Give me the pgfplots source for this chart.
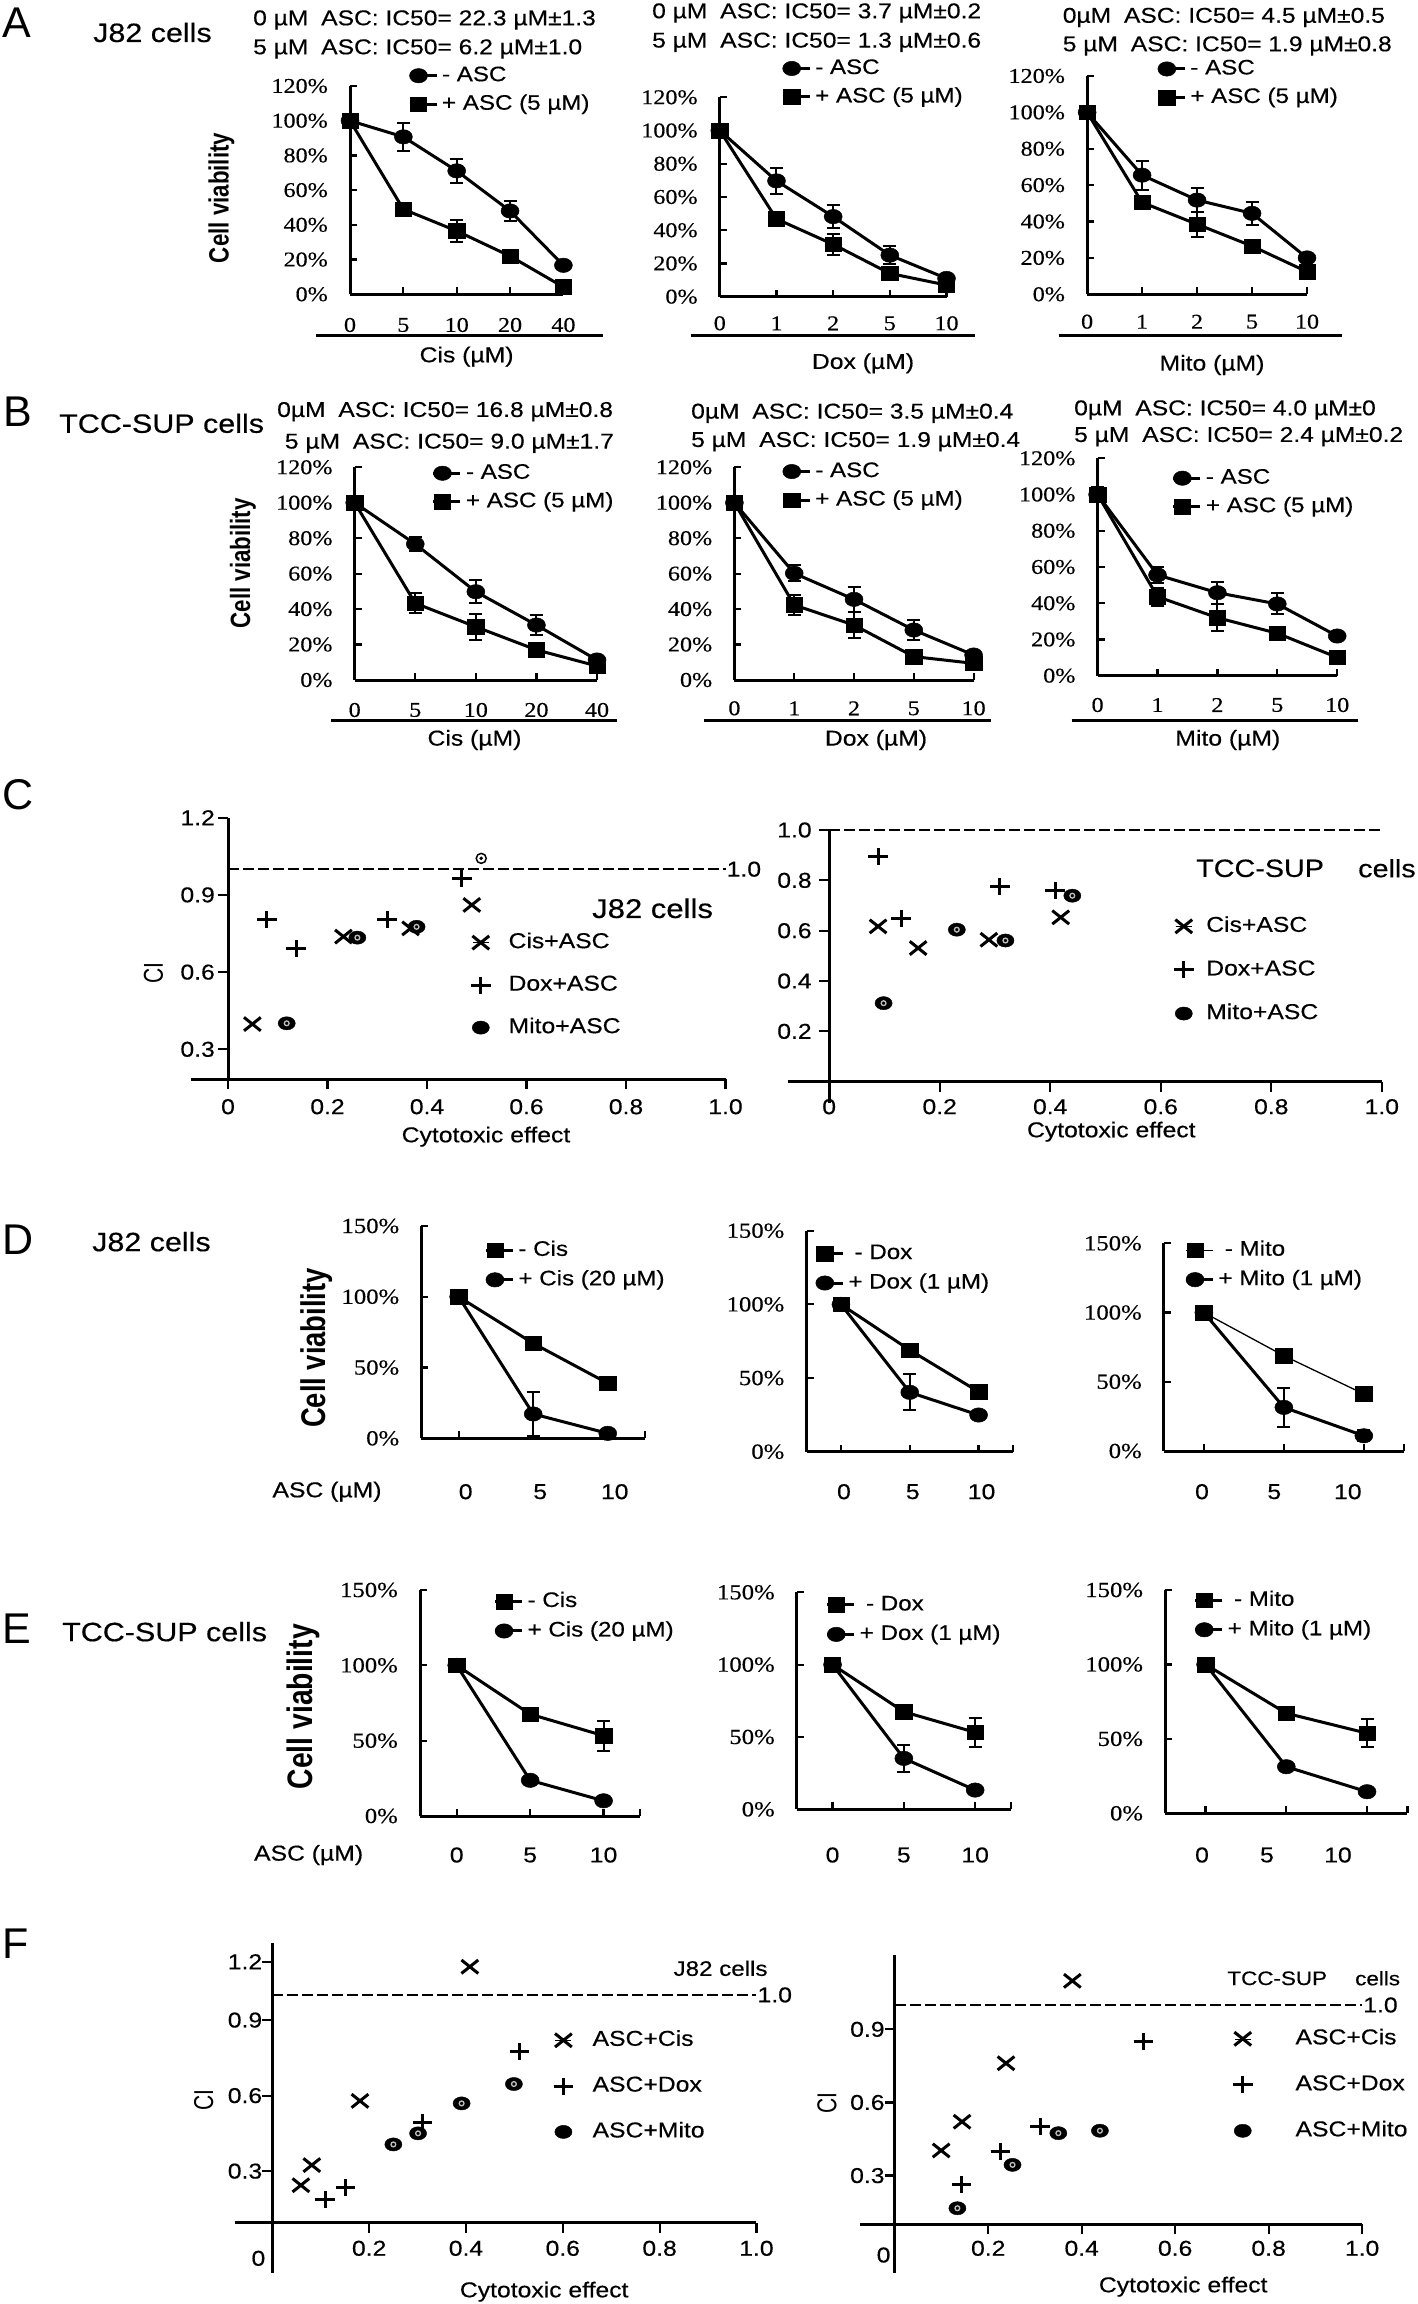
\documentclass[border=0pt]{standalone}
\usepackage{fontspec}
\setmainfont[FakeStretch=1.15,FakeBold=0.4]{Liberation Sans}
\newfontfamily\plainsans{Liberation Sans}
\newfontfamily\tms[FakeStretch=1.15,FakeBold=0.4]{Liberation Serif}
\usepackage{graphicx}
\usepackage{pgfplots}
\pgfplotsset{compat=1.18}
\newcommand{\fs}[1]{\fontsize{#1}{#1}\selectfont}
\newcommand{\gap}{\hspace{0.6em}}
\pgfplotsset{
  noarrows/.style={axis line style={line width=3pt,-},
    every inner x axis line/.append style={-},
    every inner y axis line/.append style={-},
    every outer x axis line/.append style={-},
    every outer y axis line/.append style={-}},
  base/.style={scale only axis, clip=false,
    tick style={line width=2.2pt, black}},
  lineleg/.style={
    legend image code/.code={\path (-9pt,0pt) -- (18pt,0pt);
      \draw[mark repeat=2,mark phase=1,##1] plot coordinates {(0pt,0pt) (17pt,0pt)};},
    legend cell align=left,
    legend style={draw=none, fill=none, inner sep=0pt, outer sep=0pt,
      row sep=7.5pt, column sep=4pt, font=\fs{21}, anchor=west,
      nodes={inner sep=0pt, text height=16pt, text depth=5pt}}},
  markleg/.style={
    legend image code/.code={\path (-8pt,0pt) -- (8pt,0pt);
      \draw[##1] plot coordinates {(0pt,0pt)};},
    legend cell align=left,
    legend style={draw=none, fill=none, inner sep=0pt, outer sep=0pt,
      font=\fs{21.5}, anchor=west,
      nodes={inner sep=0pt, text height=16pt, text depth=5pt}}},
  ab/.style={base, lineleg,
    axis x line=bottom, axis y line=left, noarrows,
    tick align=inside, major tick length=7pt,
    xmin=0, xmax=4, xtick={0,1,2,3,4},
    ymin=0, ymax=120, ytick={0,20,40,60,80,100,120},
    yticklabels={0\%,20\%,40\%,60\%,80\%,100\%,120\%},
    yticklabel style={font=\tms\fs{21}, anchor=east, inner sep=0pt, xshift=-22pt},
    xticklabel style={font=\tms\fs{21}, anchor=center, inner sep=0pt}},
  de/.style={base, lineleg,
    axis x line=bottom, axis y line=left, noarrows,
    tick align=inside, major tick length=7pt,
    xmin=-2.5, xmax=12.5, xtick={0,5,10,12.5}, xticklabels={0,5,10,{}},
    ymin=0, ymax=150, ytick={0,50,100,150},
    yticklabels={0\%,50\%,100\%,150\%},
    yticklabel style={font=\tms\fs{21.5}, anchor=east, inner sep=0pt, xshift=-22pt},
    xticklabel style={font=\fs{21.5}, anchor=center, inner sep=0pt},
    legend style={row sep=8.5pt}},
  cf/.style={base, markleg,
    axis x line=bottom, axis y line=center, noarrows,
    hide obscured x ticks=false, hide obscured y ticks=false,
    tick align=outside, major tick length=10pt, xmax=1,
    yticklabel style={font=\fs{21.5}, anchor=east, inner sep=0pt},
    xticklabel style={font=\fs{21.5}, anchor=center, inner sep=0pt}},
  circ/.style={black, line width=3pt, mark=*, mark size=7.2pt, mark options={solid, xscale=1.25, line width=0.5pt}},
  sqr/.style={black, line width=3pt, mark=square*, mark size=7.3pt, mark options={solid, xscale=1.12, line width=0.5pt}},
  eb/.style={/pgfplots/error bars/y dir=both, /pgfplots/error bars/y explicit,
    /pgfplots/error bars/error bar style={line width=2pt},
    /pgfplots/error bars/error mark options={rotate=90, mark size=6.5pt, line width=2pt}},
  cisx/.style={black, only marks, mark=x, mark size=9.5pt, mark options={line width=3pt, xscale=1.25}},
  doxp/.style={black, only marks, mark=+, mark size=8.5pt, mark options={line width=3pt, xscale=1.15}},
  mitoo/.style={black, only marks, mark=*, mark size=6.6pt, mark options={xscale=1.3, fill=black, draw=black}},
  mitodot/.style={forget plot, only marks, mark=o, mark size=2.4pt, mark options={draw=gray!50, line width=1.3pt}},
  dashone/.style={forget plot, black, line width=2.5pt, dash pattern=on 11pt off 4pt},
}
\begin{document}
\begin{tikzpicture}[x=1pt,y=1pt]
\path[use as bounding box] (0,0) rectangle (1417,-2304);

% ---------------- text: panel letters and cell labels
\node[anchor=west, inner sep=0pt, font=\plainsans\fs{43}] at (2,-22.5) {A};
\node[anchor=west, inner sep=0pt, font=\plainsans\fs{43}] at (3,-412) {B};
\node[anchor=west, inner sep=0pt, font=\plainsans\fs{43}] at (2,-795) {C};
\node[anchor=west, inner sep=0pt, font=\plainsans\fs{43}] at (2,-1240) {D};
\node[anchor=west, inner sep=0pt, font=\plainsans\fs{43}] at (2,-1629) {E};
\node[anchor=west, inner sep=0pt, font=\plainsans\fs{43}] at (2,-1944) {F};
\node[anchor=west, inner sep=0pt, font=\fs{26.5}] at (93,-32.5) {J82 cells};
\node[anchor=west, inner sep=0pt, font=\fs{26.5}] at (59,-423.3) {TCC-SUP cells};
\node[anchor=west, inner sep=0pt, font=\fs{26.5}] at (92,-1241.7) {J82 cells};
\node[anchor=west, inner sep=0pt, font=\fs{26.5}] at (62,-1631.7) {TCC-SUP cells};

% ---------------- headers
\begin{scope}[every node/.style={anchor=west, inner sep=0pt, font=\fs{21.4}}]
\node at (253,-20) {0 µM\gap ASC: IC50= 22.3 µM±1.3};
\node at (253,-49) {5 µM\gap ASC: IC50= 6.2 µM±1.0};
\node at (652,-13) {0 µM\gap ASC: IC50= 3.7 µM±0.2};
\node at (652,-42.3) {5 µM\gap ASC: IC50= 1.3 µM±0.6};
\node at (1062.6,-17.5) {0µM\gap ASC: IC50= 4.5 µM±0.5};
\node at (1062.6,-46) {5 µM\gap ASC: IC50= 1.9 µM±0.8};
\node at (277,-411.7) {0µM\gap ASC: IC50= 16.8 µM±0.8};
\node at (284.7,-443.3) {5 µM\gap ASC: IC50= 9.0 µM±1.7};
\node at (691,-413.3) {0µM\gap ASC: IC50= 3.5 µM±0.4};
\node at (691,-441.7) {5 µM\gap ASC: IC50= 1.9 µM±0.4};
\node at (1074,-410) {0µM\gap ASC: IC50= 4.0 µM±0};
\node at (1074,-436.7) {5 µM\gap ASC: IC50= 2.4 µM±0.2};
\end{scope}

% ---------------- axis titles
\begin{scope}[every node/.style={inner sep=0pt, font=\fs{21.5}}]
\node at (466.6,-356.7) {Cis (µM)};
\node at (863,-363.3) {Dox (µM)};
\node at (1212,-365) {Mito (µM)};
\node at (474.5,-740) {Cis (µM)};
\node at (876,-740) {Dox (µM)};
\node at (1227.8,-740) {Mito (µM)};
\node at (486,-1136.7) {Cytotoxic effect};
\node at (1111.3,-1131.7) {Cytotoxic effect};
\node at (327,-1491.7) {ASC (µM)};
\node at (308.6,-1855) {ASC (µM)};
\node at (544.2,-2291.7) {Cytotoxic effect};
\node at (1183.2,-2286.7) {Cytotoxic effect};
\node at (258.4,-2258.3) {0};
\node at (883.6,-2255) {0};
\end{scope}
\node[rotate=90, inner sep=0pt, font=\plainsans\bfseries\fs{22.3}] at (221.4,-198) {\scalebox{1}[1.25]{Cell viability}};
\node[rotate=90, inner sep=0pt, font=\plainsans\bfseries\fs{22.3}] at (243,-563.3) {\scalebox{1}[1.25]{Cell viability}};
\node[rotate=90, inner sep=0pt, font=\plainsans\bfseries\fs{27.4}] at (316.7,-1348) {\scalebox{1}[1.25]{Cell viability}};
\node[rotate=90, inner sep=0pt, font=\plainsans\bfseries\fs{28.3}] at (303,-1706.7) {\scalebox{1}[1.25]{Cell viability}};
\node[rotate=90, inner sep=0pt, font=\plainsans\fs{21}] at (153.4,-973.3) {\scalebox{1}[1.3]{CI}};
\node[rotate=90, inner sep=0pt, font=\plainsans\fs{21}] at (203.8,-2100) {\scalebox{1}[1.3]{CI}};
\node[rotate=90, inner sep=0pt, font=\plainsans\fs{21}] at (827,-2103.3) {\scalebox{1}[1.3]{CI}};
\node[anchor=west, inner sep=0pt, font=\fs{27}] at (592,-908.3) {J82 cells};
\node[anchor=west, inner sep=0pt, font=\fs{25}] at (1196,-868.3) {TCC-SUP};
\node[anchor=west, inner sep=0pt, font=\fs{25}] at (1358,-868.3) {cells};
\node[anchor=west, inner sep=0pt, font=\fs{21}] at (673.4,-1968.3) {J82 cells};
\node[anchor=west, inner sep=0pt, font=\fs{19.5}] at (1227.2,-1978.3) {TCC-SUP};
\node[anchor=west, inner sep=0pt, font=\fs{19.5}] at (1355,-1978.3) {cells};

% ---------------- separator lines under tick labels, axis extensions
\begin{scope}[line width=3pt]
\draw (316,-335) -- (603,-335);
\draw (691,-335) -- (975,-335);
\draw (1058.5,-335) -- (1342.4,-335);
\draw (331,-720) -- (617,-720);
\draw (704,-720) -- (990.8,-720);
\draw (1071.5,-720) -- (1358,-720);
\draw (829.3,-1081.7) -- (829.3,-1103);
\draw (272.4,-2222.7) -- (272.4,-2273.3);
\draw (894.9,-2224.3) -- (894.9,-2273.3);
\end{scope}

% ================= A1
\begin{axis}[ab, at={(350pt,-294.3pt)}, anchor=south west, width=213.4pt, height=208.3pt,
  xticklabels={0,5,10,20,40}, xticklabel style={yshift=-30.7pt},
  legend style={at={(0.272,0.981)}}]
\addplot[circ,eb] table[x=x,y=y,y error=e,row sep=\\]{x y e\\0 100 0\\1 90.7 7.9\\2 71.1 7\\3 48 6\\4 16.7 0\\};
\addlegendentry{- ASC}
\addplot[sqr,eb] table[x=x,y=y,y error=e,row sep=\\]{x y e\\0 100 0\\1 49 0\\2 36.5 6.4\\3 22 0\\4 4.2 0\\};
\addlegendentry{+ ASC (5 µM)}
\end{axis}
% ================= A2
\begin{axis}[ab, at={(719.8pt,-296.7pt)}, anchor=south west, width=226.7pt, height=199.4pt,
  xticklabels={0,1,2,5,10}, xticklabel style={yshift=-26.6pt},
  legend style={at={(0.271,1.073)}}]
\addplot[circ,eb] table[x=x,y=y,y error=e,row sep=\\]{x y e\\0 100 0\\1 69.7 7.8\\2 48.2 7\\3 25 5.6\\4 11 0\\};
\addlegendentry{- ASC}
\addplot[sqr,eb] table[x=x,y=y,y error=e,row sep=\\]{x y e\\0 100 0\\1 46.8 0\\2 31.5 6.5\\3 14 3\\4 7 0\\};
\addlegendentry{+ ASC (5 µM)}
\end{axis}
% ================= A3
\begin{axis}[ab, at={(1087.1pt,-294.3pt)}, anchor=south west, width=219.9pt, height=218.3pt,
  xticklabels={0,1,2,5,10}, xticklabel style={yshift=-27.4pt},
  legend style={at={(0.315,0.967)}}]
\addplot[circ,eb] table[x=x,y=y,y error=e,row sep=\\]{x y e\\0 100 0\\1 65.5 7.9\\2 51.8 6.4\\3 44.5 6.4\\4 20 0\\};
\addlegendentry{- ASC}
\addplot[sqr,eb] table[x=x,y=y,y error=e,row sep=\\]{x y e\\0 100 0\\1 50.5 0\\2 38.5 7\\3 26.5 0\\4 12.4 0\\};
\addlegendentry{+ ASC (5 µM)}
\end{axis}

% ================= B1
\begin{axis}[ab, at={(354.7pt,-680pt)}, anchor=south west, width=242.3pt, height=212.7pt,
  xticklabels={0,5,10,20,40}, xticklabel style={yshift=-30pt},
  legend style={at={(0.319,0.905)}}]
\addplot[circ,eb] table[x=x,y=y,y error=e,row sep=\\]{x y e\\0 100 4\\1 76.7 3.9\\2 49.8 6.4\\3 31 5.6\\4 11.3 0\\};
\addlegendentry{- ASC}
\addplot[sqr,eb] table[x=x,y=y,y error=e,row sep=\\]{x y e\\0 100 0\\1 43.3 5.6\\2 30 7.4\\3 17 0\\4 7.9 0\\};
\addlegendentry{+ ASC (5 µM)}
\end{axis}
% ================= B2
\begin{axis}[ab, at={(734.4pt,-680pt)}, anchor=south west, width=239.2pt, height=212.7pt,
  xticklabels={0,1,2,5,10}, xticklabel style={yshift=-28.3pt},
  legend style={at={(0.196,0.913)}}]
\addplot[circ,eb] table[x=x,y=y,y error=e,row sep=\\]{x y e\\0 100 4\\1 60.2 4.5\\2 45.5 6.9\\3 28.2 5.9\\4 14.1 0\\};
\addlegendentry{- ASC}
\addplot[sqr,eb] table[x=x,y=y,y error=e,row sep=\\]{x y e\\0 100 0\\1 42.3 5.5\\2 31 7.3\\3 13.2 0\\4 9.4 0\\};
\addlegendentry{+ ASC (5 µM)}
\end{axis}
% ================= B3
\begin{axis}[ab, at={(1097.6pt,-675.7pt)}, anchor=south west, width=239.6pt, height=217.4pt,
  xticklabels={0,1,2,5,10}, xticklabel style={yshift=-29.3pt},
  legend style={at={(0.310,0.843)}}]
\addplot[circ,eb] table[x=x,y=y,y error=e,row sep=\\]{x y e\\0 100 4\\1 55.6 4.6\\2 45.8 6\\3 39.6 5.8\\4 21.9 0\\};
\addlegendentry{- ASC}
\addplot[sqr,eb] table[x=x,y=y,y error=e,row sep=\\]{x y e\\0 100 0\\1 43.6 5\\2 32 7.5\\3 23.4 0\\4 10.1 0\\};
\addlegendentry{+ ASC (5 µM)}
\end{axis}

% ================= C left
\begin{axis}[cf, at={(191.2pt,-1079.3pt)}, anchor=south west, width=534.3pt, height=261.6pt,
  xmin=-0.074, ymin=0.1834, ymax=1.2,
  xtick={0,0.2,0.4,0.6,0.8,1}, xticklabels={0,0.2,0.4,0.6,0.8,1.0},
  ytick={0.3,0.6,0.9,1.2}, yticklabels={0.3,0.6,0.9,1.2},
  xticklabel style={yshift=-17.4pt}, yticklabel style={xshift=-3pt},
  legend style={at={(0.5237,0.360)}, row sep=21.5pt, column sep=18pt}]
\addplot[dashone] coordinates {(0,1) (1,1)};
\addplot[cisx] coordinates {(0.049,0.398) (0.232,0.738) (0.367,0.77) (0.490,0.861)};
\addlegendentry{Cis+ASC}
\addplot[doxp] coordinates {(0.078,0.803) (0.137,0.692) (0.32,0.806) (0.47,0.962)};
\addlegendentry{Dox+ASC}
\addplot[mitoo] coordinates {(0.118,0.401) (0.26,0.734) (0.379,0.776)};
\addlegendentry{Mito+ASC}
\addplot[mitodot] coordinates {(0.118,0.401) (0.26,0.734) (0.379,0.776)};
\addplot[forget plot, only marks, mark=*, mark size=5pt, mark options={fill=white, draw=black, line width=1.5pt}] coordinates {(0.509,1.042)};
\addplot[forget plot, only marks, mark=*, mark size=1.6pt, black] coordinates {(0.509,1.042)};
\node[anchor=west, inner sep=1pt, font=\fs{21.5}] at (axis cs:1,1) {1.0};
\end{axis}

% ================= C right
\begin{axis}[cf, at={(787.7pt,-1081.7pt)}, anchor=south west, width=594.1pt, height=251.7pt,
  xmin=-0.075, ymin=0, ymax=1,
  xtick={0,0.2,0.4,0.6,0.8,1}, xticklabels={0,0.2,0.4,0.6,0.8,1.0},
  ytick={0.2,0.4,0.6,0.8,1}, yticklabels={0.2,0.4,0.6,0.8,1.0},
  xticklabel style={yshift=-15pt}, yticklabel style={xshift=-7.3pt},
  legend style={at={(0.6502,0.444)}, row sep=22.6pt, column sep=12.7pt}]
\addplot[dashone] coordinates {(0,1) (1,1)};
\addplot[cisx] coordinates {(0.0885,0.617) (0.161,0.531) (0.289,0.564) (0.419,0.653)};
\addlegendentry{Cis+ASC}
\addplot[doxp] coordinates {(0.0885,0.893) (0.130,0.650) (0.309,0.776) (0.409,0.760)};
\addlegendentry{Dox+ASC}
\addplot[mitoo] coordinates {(0.0985,0.312) (0.231,0.604) (0.319,0.561) (0.440,0.739)};
\addlegendentry{Mito+ASC}
\addplot[mitodot] coordinates {(0.0985,0.312) (0.231,0.604) (0.319,0.561) (0.440,0.739)};
\end{axis}

% ================= D1
\begin{axis}[de, at={(421.4pt,-1438.3pt)}, anchor=south west, width=223.6pt, height=212.3pt,
  xticklabel style={yshift=-53.4pt, xshift=7pt},
  legend style={at={(0.282,0.816)}}]
\addplot[sqr] coordinates {(0,100) (5,67.1) (10,38.9)};
\addlegendentry{- Cis}
\addplot[circ,eb] table[x=x,y=y,y error=e,row sep=\\]{x y e\\0 100 0\\5 17.2 15.5\\10 3.5 0\\};
\addlegendentry{+ Cis (20 µM)}
\end{axis}
% ================= D2
\begin{axis}[de, at={(806.5pt,-1451.7pt)}, anchor=south west, width=206.5pt, height=221pt,
  xticklabel style={yshift=-40pt, xshift=3pt},
  legend style={at={(0.038,0.830)}}]
\addplot[sqr] coordinates {(0,100) (5,69) (10,40.7)};
\addlegendentry{\hspace{0.3em}- Dox}
\addplot[circ,eb] table[x=x,y=y,y error=e,row sep=\\]{x y e\\0 100 0\\5 40.3 12.2\\10 24.9 0\\};
\addlegendentry{+ Dox (1 µM)}
\end{axis}
% ================= D3
\begin{axis}[de, at={(1163.9pt,-1451pt)}, anchor=south west, width=239.9pt, height=207.7pt,
  xticklabels={,,,}, xticklabel style={yshift=-40.7pt},
  extra x ticks={-0.12,4.4,9.0}, extra x tick labels={0,5,10},
  extra x tick style={major tick length=0pt},
  legend style={at={(0.086,0.896)}}]
\addplot[sqr, line width=1.3pt] coordinates {(0,100) (5,68.8) (10,41.2)};
\addlegendentry{\hspace{0.3em}- Mito}
\addplot[circ,eb] table[x=x,y=y,y error=e,row sep=\\]{x y e\\0 100 0\\5 31.5 13.9\\10 11 4\\};
\addlegendentry{+ Mito (1 µM)}
\end{axis}

% ================= E1
\begin{axis}[de, at={(420pt,-1816pt)}, anchor=south west, width=220.3pt, height=226pt,
  xticklabel style={yshift=-39pt},
  legend style={at={(0.334,0.884)}}]
\addplot[sqr,eb] table[x=x,y=y,y error=e,row sep=\\]{x y e\\0 100 0\\5 67.6 0\\10 53.3 9.9\\};
\addlegendentry{- Cis}
\addplot[circ] coordinates {(0,100) (5,23.7) (10,10.1)};
\addlegendentry{+ Cis (20 µM)}
\end{axis}
% ================= E2
\begin{axis}[de, at={(796.9pt,-1809.3pt)}, anchor=south west, width=213.9pt, height=217pt,
  xticklabel style={yshift=-45.7pt},
  legend style={at={(0.135,0.874)}}]
\addplot[sqr,eb] table[x=x,y=y,y error=e,row sep=\\]{x y e\\0 100 0\\5 67.4 0\\10 53.2 9.8\\};
\addlegendentry{\hspace{0.3em}- Dox}
\addplot[circ,eb] table[x=x,y=y,y error=e,row sep=\\]{x y e\\0 100 0\\5 35.2 9.1\\10 13.3 0\\};
\addlegendentry{+ Dox (1 µM)}
\end{axis}
% ================= E3
\begin{axis}[de, at={(1165.2pt,-1813.3pt)}, anchor=south west, width=242.2pt, height=223.3pt,
  xticklabels={,,,}, xticklabel style={yshift=-41.7pt},
  extra x ticks={-0.22,3.8,8.2}, extra x tick labels={0,5,10},
  extra x tick style={major tick length=0pt},
  legend style={at={(0.118,0.888)}}]
\addplot[sqr,eb] table[x=x,y=y,y error=e,row sep=\\]{x y e\\0 100 0\\5 67.2 0\\10 53.8 9.5\\};
\addlegendentry{\hspace{0.3em}- Mito}
\addplot[circ] coordinates {(0,100) (5,31.3) (10,14.5)};
\addlegendentry{+ Mito (1 µM)}
\end{axis}

% ================= F left
\begin{axis}[cf, at={(234.6pt,-2222.7pt)}, anchor=south west, width=521.8pt, height=279.4pt,
  xmin=-0.078, ymin=0.095, ymax=1.205,
  xtick={0.2,0.4,0.6,0.8,1}, xticklabels={0.2,0.4,0.6,0.8,1.0},
  ytick={0.3,0.6,0.9,1.132}, yticklabels={0.3,0.6,0.9,1.2},
  xticklabel style={yshift=-15.6pt}, yticklabel style={xshift=0pt},
  legend style={at={(0.6114,0.489)}, row sep=24.8pt, column sep=19.4pt}]
\addplot[dashone] coordinates {(0,1) (1,1)};
\addplot[cisx] coordinates {(0.059,0.244) (0.0815,0.324) (0.181,0.579) (0.408,1.112)};
\addlegendentry{ASC+Cis}
\addplot[doxp] coordinates {(0.109,0.188) (0.151,0.234) (0.310,0.494) (0.511,0.774)};
\addlegendentry{ASC+Dox}
\addplot[mitoo] coordinates {(0.25,0.406) (0.301,0.45) (0.391,0.569) (0.499,0.646)};
\addlegendentry{ASC+Mito}
\addplot[mitodot] coordinates {(0.25,0.406) (0.301,0.45) (0.391,0.569) (0.499,0.646)};
\node[anchor=west, inner sep=1pt, font=\fs{21.5}] at (axis cs:1,1) {1.0};
\end{axis}

% ================= F right
\begin{axis}[cf, at={(859.7pt,-2224.3pt)}, anchor=south west, width=502.4pt, height=269.3pt,
  xmin=-0.075, ymin=0.1, ymax=1.205,
  xtick={0.2,0.4,0.6,0.8,1}, xticklabels={0.2,0.4,0.6,0.8,1.0},
  ytick={0.3,0.6,0.9}, yticklabels={0.3,0.6,0.9},
  xticklabel style={yshift=-14pt}, yticklabel style={xshift=0pt},
  legend style={at={(0.743,0.518)}, row sep=25pt, column sep=43pt}]
\addplot[dashone] coordinates {(0,1) (1,1)};
\addplot[cisx] coordinates {(0.0993,0.403) (0.144,0.521) (0.238,0.761) (0.380,1.099)};
\addlegendentry{ASC+Cis}
\addplot[doxp] coordinates {(0.143,0.265) (0.226,0.398) (0.311,0.501) (0.532,0.849)};
\addlegendentry{ASC+Dox}
\addplot[mitoo] coordinates {(0.134,0.166) (0.252,0.344) (0.350,0.474) (0.439,0.484)};
\addlegendentry{ASC+Mito}
\addplot[mitodot] coordinates {(0.134,0.166) (0.252,0.344) (0.350,0.474) (0.439,0.484)};
\node[anchor=west, inner sep=1pt, font=\fs{21.5}] at (axis cs:1,1) {1.0};
\end{axis}
\end{tikzpicture}
\end{document}
